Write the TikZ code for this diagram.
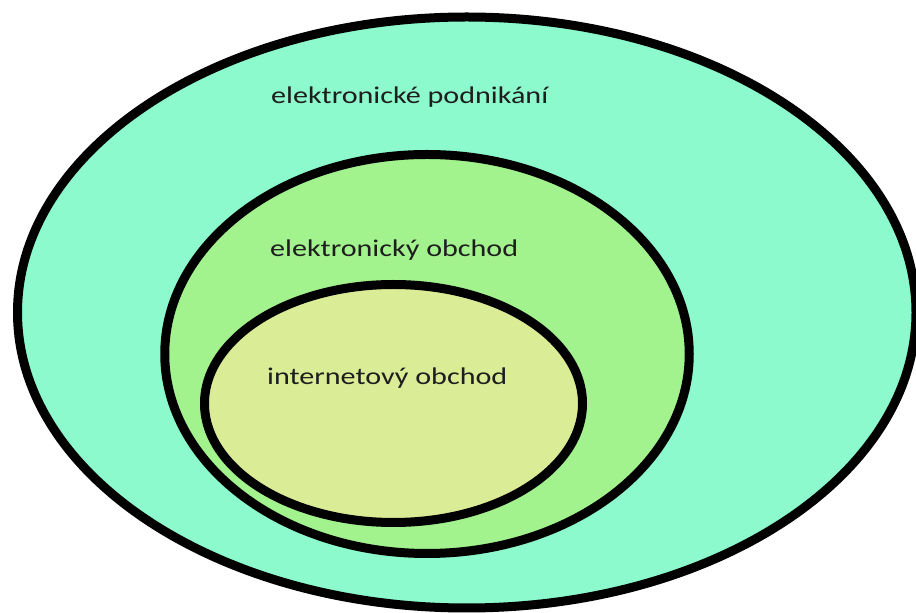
\documentclass[tikz,border=0pt]{standalone}
\usepackage{fontspec}
\setmainfont{Carlito}[FakeStretch=1.255]
\usetikzlibrary{shapes.geometric}
\definecolor{outerfill}{HTML}{8CFACC}
\definecolor{midfill}{HTML}{A2F28E}
\definecolor{innerfill}{HTML}{DBEC97}
\definecolor{labeltext}{HTML}{1E1E1E}
\tikzset{
  set/.style={ellipse, draw=black, line width=9pt, inner sep=0pt},
  setlabel/.style={anchor=base west, inner sep=0pt, text=labeltext,
    font=\fontsize{24pt}{28pt}\selectfont}
}
\begin{document}
\begin{tikzpicture}[x=1pt,y=1pt]
  \useasboundingbox (0,0) rectangle (916,613);
  \fill[white] (0,0) rectangle (916,613);
  \clip (0,0) rectangle (916,613);
  % nested sets
  \node[set, fill=outerfill, minimum width=898.5pt, minimum height=591pt] (podnikani) at (466.75,300.5) {};
  \node[set, fill=midfill, minimum width=524.5pt, minimum height=399pt] (eobchod) at (427,259) {};
  \node[set, fill=innerfill, minimum width=378pt, minimum height=238pt] (iobchod) at (393.5,209.5) {};
  % labels
  \node[setlabel] (lpodnikani) at (271,509) {elektronické podnikání};
  \node[setlabel] (leobchod) at (270,356) {elektronický obchod};
  \node[setlabel] (liobchod) at (267,228) {internetový obchod};
\end{tikzpicture}
\end{document}
